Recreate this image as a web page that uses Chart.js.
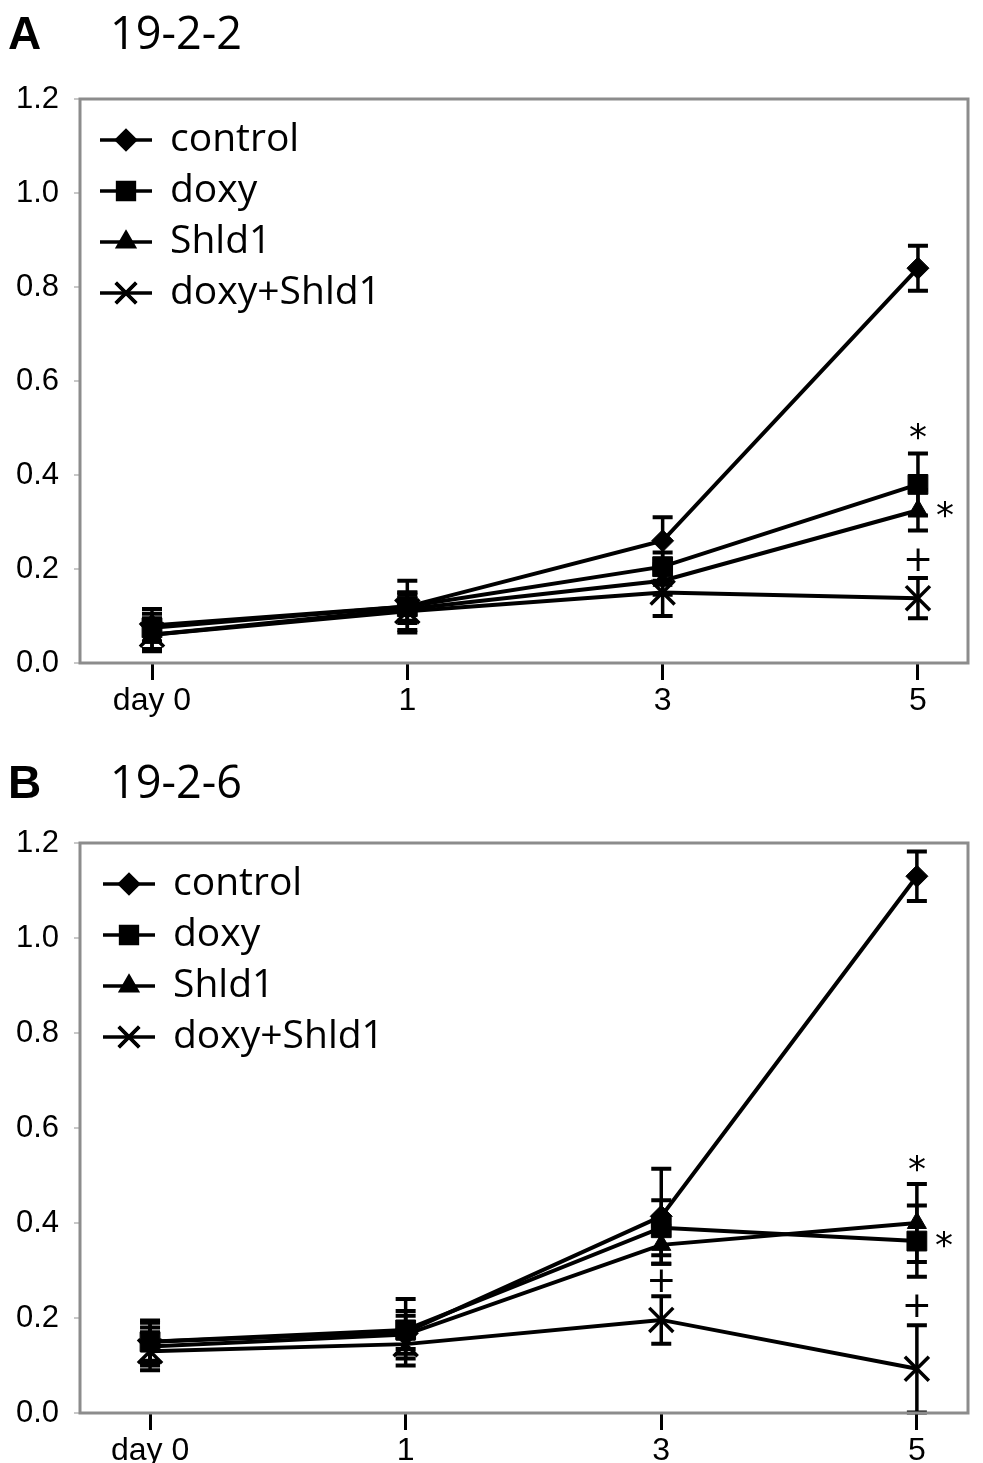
<!DOCTYPE html>
<html>
<head>
<meta charset="utf-8">
<script src="https://cdn.jsdelivr.net/npm/chart.js@4.4.1/dist/chart.umd.min.js"></script>
<style>
  html, body { margin: 0; padding: 0; background: #fff; }
  canvas { display: block; }
</style>
</head>
<body>
<canvas id="chartA" width="983" height="735"></canvas>
<canvas id="chartB" width="983" height="728"></canvas>
<script>
// ---- data ----
const days = ['day 0', '1', '3', '5'];
const seriesNames = ['control', 'doxy', 'Shld1', 'doxy+Shld1'];

// panel A : 19-2-2
const controlA = [0.08, 0.12, 0.26, 0.84];
const doxyA = [0.075, 0.12, 0.205, 0.38];
const shldA = [0.06, 0.115, 0.175, 0.325];
const bothA = [0.06, 0.11, 0.15, 0.138];
const controlErrA = [0.035, 0.055, 0.05, 0.048];
const doxyErrA = [0.03, 0.03, 0.03, 0.066];
const shldErrA = [0.035, 0.03, 0.03, 0.043];
const bothErrA = [0.03, 0.04, 0.05, 0.043];
// significance marks: [day index, value, symbol, where]
const marksA = [[3, 0.49, '*', 'above'], [3, 0.325, '*', 'right'], [3, 0.215, '+', 'above']];

// panel B : 19-2-6
const controlB = [0.15, 0.17, 0.414, 1.13];
const doxyB = [0.15, 0.175, 0.39, 0.362];
const shldB = [0.14, 0.165, 0.354, 0.40];
const bothB = [0.13, 0.145, 0.196, 0.093];
const controlErrB = [0.045, 0.07, 0.1, 0.052];
const doxyErrB = [0.04, 0.04, 0.058, 0.075];
const shldErrB = [0.04, 0.04, 0.04, 0.082];
const bothErrB = [0.04, 0.03, 0.05, 0.092];
const marksB = [[3, 0.522, '*', 'above'], [3, 0.362, '*', 'right'], [2, 0.274, '+', 'above'], [3, 0.221, '+', 'above']];

const yTicks = [0, 0.2, 0.4, 0.6, 0.8, 1.0, 1.2];

const pointStyles = ['rectRot', 'rect', 'triangle', 'crossRot'];
const pointSizes = [11, 14, 11, 17];

function toPoints(arr) {
  return arr.map((v, i) => ({ x: i, y: v }));
}

// error bars, frame, legend, titles and marks
const decoPlugin = {
  id: 'deco',
  beforeDatasetsDraw(chart) {
    const o = chart.options.plugins.deco;
    const ctx = chart.ctx;
    const xs = chart.scales.x, ys = chart.scales.y;
    ctx.save();
    ctx.strokeStyle = '#000';
    o.errors.forEach((errs, d) => {
      const vals = chart.data.datasets[d].data;
      errs.forEach((e, i) => {
        const px = xs.getPixelForValue(vals[i].x);
        const top = ys.getPixelForValue(vals[i].y + e);
        const bot = ys.getPixelForValue(vals[i].y - e);
        ctx.lineWidth = 3.5;
        ctx.beginPath();
        ctx.moveTo(px, top); ctx.lineTo(px, bot);
        ctx.stroke();
        ctx.lineWidth = 4;
        ctx.beginPath();
        ctx.moveTo(px - 10, top); ctx.lineTo(px + 10, top);
        ctx.moveTo(px - 10, bot); ctx.lineTo(px + 10, bot);
        ctx.stroke();
      });
    });
    ctx.restore();
  },
  afterDraw(chart) {
    const o = chart.options.plugins.deco;
    const ctx = chart.ctx;
    const a = chart.chartArea;
    const xs = chart.scales.x, ys = chart.scales.y;
    ctx.save();
    // frame
    ctx.strokeStyle = '#8c8c8c';
    ctx.lineWidth = 3;
    ctx.strokeRect(a.left, a.top, a.right - a.left, a.bottom - a.top);

    // titles
    ctx.fillStyle = '#000';
    ctx.textBaseline = 'middle';
    ctx.textAlign = 'left';
    ctx.font = 'bold 46px "Liberation Sans", Arial, sans-serif';
    ctx.fillText(o.letter, 8, o.titleY);
    ctx.font = '45px "Open Sans", sans-serif';
    ctx.fillText(o.title, 110, o.titleY);

    // legend
    chart.data.datasets.forEach((ds, d) => {
      const y = a.top + 41 + d * 51;
      const x0 = a.left + o.legendX;
      ctx.strokeStyle = '#000';
      ctx.lineWidth = 3.5;
      ctx.beginPath();
      ctx.moveTo(x0, y); ctx.lineTo(x0 + 52, y);
      ctx.stroke();
      Chart.helpers.drawPoint(ctx, {
        pointStyle: pointStyles[d], radius: pointSizes[d] * 0.85, borderWidth: 3
      }, x0 + 26, y);
      if (pointStyles[d] === 'crossRot') ctx.stroke(); else ctx.fill();
      ctx.fillStyle = '#000';
      ctx.font = '39px "Open Sans", sans-serif';
      ctx.fillText(ds.label, x0 + 70, y);
    });

    // significance marks
    ctx.textAlign = 'center';
    o.marks.forEach(m => {
      let px = xs.getPixelForValue(m[0]);
      let py = ys.getPixelForValue(m[1]);
      if (m[3] === 'right') px += 27;
      ctx.font = '36px "DejaVu Sans", sans-serif';
      ctx.fillText(m[2], px, py + (m[2] === '*' ? 7 : 0));
    });
    ctx.restore();
  }
};

function makeChart(id, vals, errs, marks, cfg) {
  const canvas = document.getElementById(id);
  const datasets = vals.map((v, d) => ({
    label: seriesNames[d],
    data: toPoints(v),
    borderColor: '#000',
    backgroundColor: '#000',
    borderWidth: 4,
    pointStyle: pointStyles[d],
    pointRadius: pointSizes[d],
    pointBorderWidth: pointStyles[d] === 'crossRot' ? 3.5 : 1,
    pointBorderColor: '#000',
    pointBackgroundColor: '#000',
    tension: 0
  }));
  return new Chart(canvas.getContext('2d'), {
    type: 'line',
    data: { datasets },
    options: {
      responsive: false,
      animation: false,
      devicePixelRatio: 1,
      layout: { autoPadding: false, padding: { top: cfg.top, right: 15, left: 0, bottom: 0 } },
      plugins: {
        legend: { display: false },
        tooltip: { enabled: false },
        deco: {
          letter: cfg.letter, title: cfg.title, titleY: cfg.titleY,
          legendX: cfg.legendX, errors: errs, marks: marks
        }
      },
      scales: {
        x: {
          type: 'linear',
          min: cfg.xmin, max: cfg.xmax,
          afterBuildTicks: s => { s.ticks = days.map((_, i) => ({ value: i })); },
          afterFit: s => {
            s.height = canvas.height - cfg.bottom;
            s.paddingLeft = 0;
            s.paddingRight = 0;
          },
          border: { display: false },
          grid: { drawOnChartArea: false, drawTicks: true, tickLength: 17, color: '#000', lineWidth: 3 },
          ticks: {
            callback: v => days[v],
            color: '#000', padding: 2,
            maxRotation: 0, autoSkip: false,
            font: { family: '"Liberation Sans", Arial, sans-serif', size: 32 }
          }
        },
        y: {
          min: 0, max: 1.2,
          afterBuildTicks: s => { s.ticks = yTicks.map(v => ({ value: v })); },
          afterFit: s => { s.width = 80; },
          border: { display: false },
          grid: { drawOnChartArea: false, drawTicks: true, tickLength: 6, color: '#c8c8c8', lineWidth: 2 },
          ticks: {
            callback: v => v.toFixed(1),
            color: '#000', padding: 15,
            font: { family: '"Liberation Sans", Arial, sans-serif', size: 31 }
          }
        }
      }
    },
    plugins: [decoPlugin]
  });
}

makeChart('chartA',
  [controlA, doxyA, shldA, bothA],
  [controlErrA, doxyErrA, shldErrA, bothErrA],
  marksA,
  { letter: 'A', title: '19-2-2', titleY: 36, top: 99, bottom: 663, xmin: -0.282, xmax: 3.196, legendX: 20 });

makeChart('chartB',
  [controlB, doxyB, shldB, bothB],
  [controlErrB, doxyErrB, shldErrB, bothErrB],
  marksB,
  { letter: 'B', title: '19-2-6', titleY: 50, top: 108, bottom: 678, xmin: -0.274, xmax: 3.2, legendX: 23 });
</script>
</body>
</html>
